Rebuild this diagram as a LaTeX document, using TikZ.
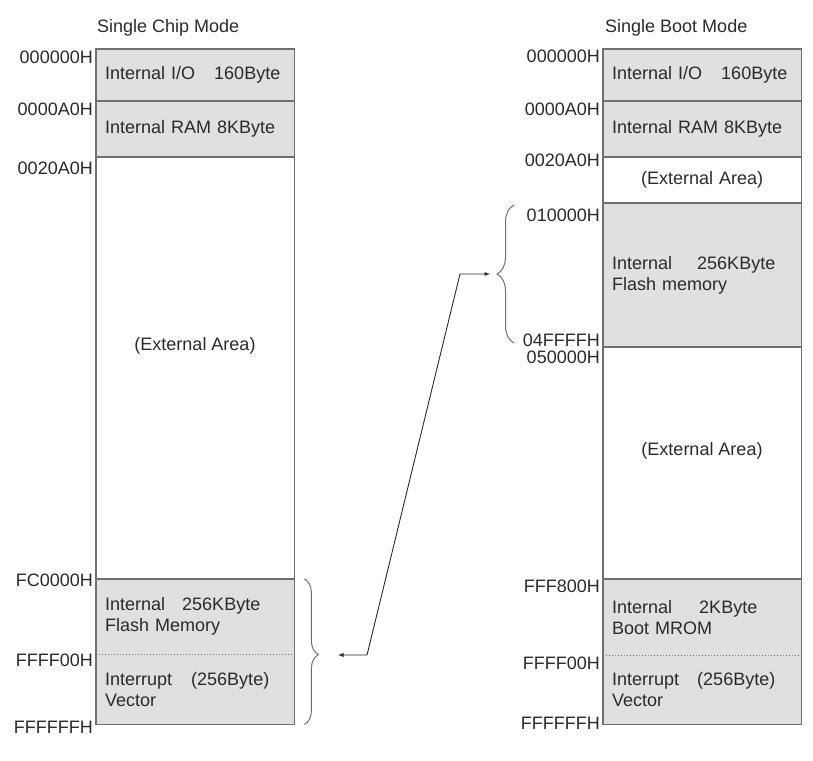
\documentclass[tikz,border=0pt]{standalone}
\usepackage{fontspec}
\setmainfont{Liberation Sans}
\usepackage{tikz}
\usetikzlibrary{arrows,positioning,calc,decorations.pathreplacing}
\tikzset{>=latex}

\definecolor{memline}{HTML}{707070}
\definecolor{memfill}{HTML}{E0E0E0}
\definecolor{memtext}{HTML}{2A2A2A}

\tikzset{
  region/.style={anchor=north west, minimum width=198pt, inner xsep=9pt, inner ysep=0pt,
    text width=180pt, align=left, fill=memfill},
  blank/.style={region, fill=none, align=center},
  frame/.style={draw=memline, line width=1.2pt},
  divide/.style={draw=memline, line width=1pt, dotted},
  addr/.style={inner sep=0pt},
  brace/.style={decorate, draw=memline, line width=1pt},
}

\begin{document}
\begin{tikzpicture}[x=1pt, y=-1pt, every node/.style={font=\fontsize{18}{21}\selectfont, text=memtext}]

\useasboundingbox (0,0) rectangle (813,760);

% single chip mode
\node [region, minimum height=52pt] (chipio) at (96,49) {Internal I/O\hspace{19pt}160Byte};
\node [region, minimum height=56pt] (chipram) at (96,101) {Internal RAM 8KByte};
\node [blank, minimum height=422pt] (chipext) at (96,157) {};
\node [region, minimum height=75pt] (chipflash) at (96,579) {Internal\hspace{17pt}256KByte\\Flash Memory};
\node [region, minimum height=70pt] (chipvec) at (96,654) {Interrupt\hspace{19pt}(256Byte)\\Vector};
\node (chipexttxt) at (195,346) {(External Area)};

\draw[frame] (chipio.north west) rectangle (chipvec.south east);
\foreach \r in {chipram,chipext,chipflash}
  \draw[frame] (\r.north west) -- (\r.north east);
\draw[divide] (chipvec.north west) -- (chipvec.north east);

\node [anchor=base west, inner sep=0pt] (chiptitle) at (97,33) {Single Chip Mode};

\node [addr, anchor=north east] (c1) at ([shift={(-3,2)}]chipio.north west) {000000H};
\node [addr, anchor=north east] (c2) at ([shift={(-3,2)}]chipram.north west) {0000A0H};
\node [addr, anchor=north east] (c3) at ([shift={(-3,5)}]chipext.north west) {0020A0H};
\node [addr, anchor=east] (c4) at ([shift={(-3,1)}]chipflash.north west) {FC0000H};
\node [addr, anchor=north east] (c5) at ([shift={(-3,0)}]chipvec.north west) {FFFF00H};
\node [addr, anchor=east] (c6) at ([shift={(-3,3)}]chipvec.south west) {FFFFFFH};

% single boot mode
\node [region, minimum height=52pt] (bootio) at (603,49) {Internal I/O\hspace{19pt}160Byte};
\node [region, minimum height=56pt] (bootram) at (603,101) {Internal RAM 8KByte};
\node [blank, minimum height=46pt] (bootexta) at (603,157) {(External Area)};
\node [region, minimum height=144pt] (bootflash) at (603,203) {Internal\hspace{25pt}256KByte\\Flash memory};
\node [blank, minimum height=232pt] (bootextb) at (603,347) {};
\node [region, minimum height=76pt] (bootmrom) at (603,579) {Internal\hspace{27pt}2KByte\\Boot MROM};
\node [region, minimum height=69pt] (bootvec) at (603,655) {Interrupt\hspace{18pt}(256Byte)\\Vector};
\node (bootexttxt) at (702,451) {(External Area)};

\draw[frame] (bootio.north west) rectangle (bootvec.south east);
\foreach \r in {bootram,bootexta,bootflash,bootextb,bootmrom}
  \draw[frame] (\r.north west) -- (\r.north east);
\draw[divide] (bootvec.north west) -- (bootvec.north east);

\node [anchor=base west, inner sep=0pt] (boottitle) at (605,33) {Single Boot Mode};

\node [addr, anchor=north east] (b1) at ([shift={(-3,1)}]bootio.north west) {000000H};
\node [addr, anchor=north east] (b2) at ([shift={(-3,2)}]bootram.north west) {0000A0H};
\node [addr, anchor=east] (b3) at ([shift={(-3,3)}]bootexta.north west) {0020A0H};
\node [addr, anchor=north east] (b4) at ([shift={(-3,6)}]bootflash.north west) {010000H};
\node [addr, anchor=south east] (b5) at ([shift={(-3,-1)}]bootflash.south west) {04FFFFH};
\node [addr, anchor=north east] (b6) at ([shift={(-3,4)}]bootextb.north west) {050000H};
\node [addr, anchor=north east] (b7) at ([shift={(-3,1)}]bootmrom.north west) {FFF800H};
\node [addr, anchor=north east] (b8) at ([shift={(-3,2)}]bootvec.north west) {FFFF00H};
\node [addr, anchor=east] (b9) at ([shift={(-3,-1)}]bootvec.south west) {FFFFFFH};

% braces and link
\draw[brace, decoration={brace, amplitude=14pt, aspect=0.52}]
  ([xshift=10pt]chipflash.north east) -- ([xshift=10pt]chipvec.south east);
\draw[brace, decoration={brace, amplitude=17pt}]
  (514,343) -- (514,205);

\coordinate (chipend) at (338,655);
\coordinate (bootend) at (490,274);
\draw[<->, draw=memtext, line width=0.9pt] (chipend) -- ++(29,0) -- ([xshift=-30pt]bootend) -- (bootend);

\end{tikzpicture}
\end{document}
